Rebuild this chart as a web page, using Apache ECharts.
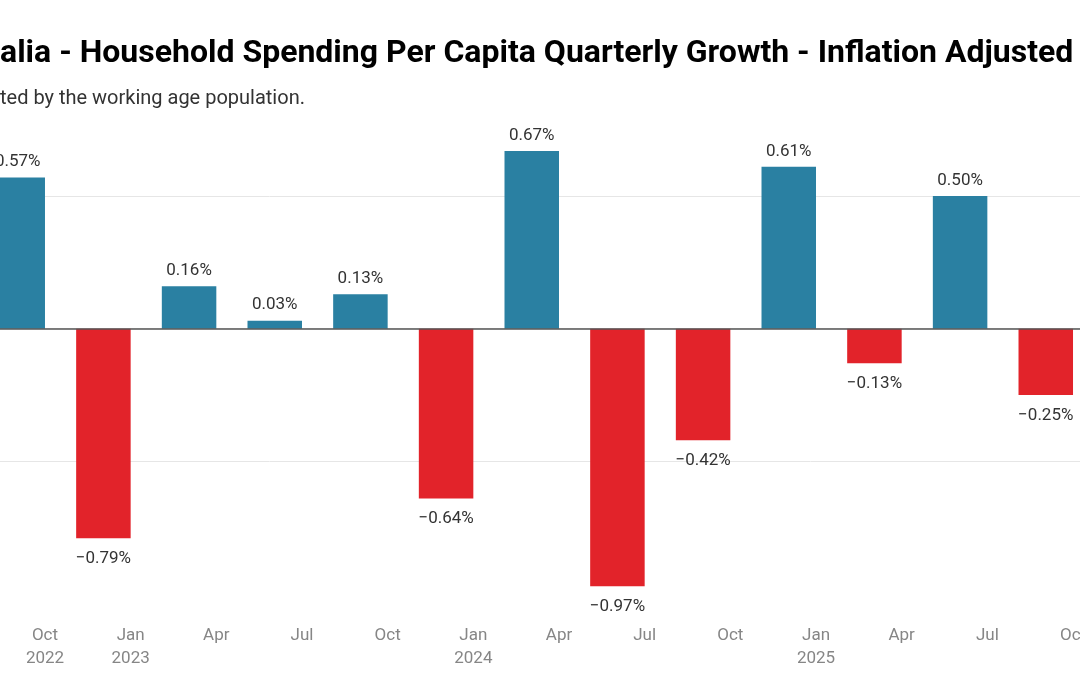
<!DOCTYPE html>
<html>
<head>
<meta charset="utf-8">
<script src="https://cdn.jsdelivr.net/npm/echarts@6/dist/echarts.min.js"></script>
<style>
html,body{margin:0;padding:0;background:#fff;}
#chart{width:1080px;height:675px;}
</style>
</head>
<body>
<div id="chart"></div>
<script>
// Quarter labels (month + year when a new year starts)
const quarters = ['Oct\n2022','Jan\n2023','Apr','Jul','Oct','Jan\n2024','Apr','Jul','Oct','Jan\n2025','Apr','Jul','Oct'];
// Quarterly growth, % (inflation adjusted, per capita)
const growth = [0.57, -0.79, 0.16, 0.03, 0.13, -0.64, 0.67, -0.97, -0.42, 0.61, -0.13, 0.50, -0.25];

const titleText = 'alia - Household Spending Per Capita Quarterly Growth - Inflation Adjusted';
const subtitleText = 'ted by the working age population.';

const BLUE = '#2a80a2';
const RED = '#e2232a';

function fmt(v) {
  return (v < 0 ? '\u2212' : '') + Math.abs(v).toFixed(2) + '%';
}

const chart = echarts.init(document.getElementById('chart'), null, {renderer: 'canvas'});
chart.setOption({
  animation: false,
  backgroundColor: '#ffffff',
  textStyle: {fontFamily: 'Roboto'},
  title: [
    {text: titleText, left: 0, top: 38, padding: 0,
     textStyle: {fontFamily: 'Roboto', fontWeight: 'bold', fontSize: 32, color: '#000'}},
    {text: subtitleText, left: 0, top: 89, padding: 0,
     textStyle: {fontFamily: 'Roboto', fontWeight: 'normal', fontSize: 20, color: '#333'}}
  ],
  grid: {left: -25.1, right: -8.6, top: 63.3, bottom: 80.9, containLabel: false, outerBoundsMode: 'none'},
  xAxis: {
    type: 'category',
    data: quarters,
    axisLine: {show: false, onZero: false},
    axisTick: {show: false},
    axisLabel: {
      interval: 0, margin: 30, color: '#868686', fontSize: 17, lineHeight: 23,
      fontFamily: 'Roboto', padding: [0, 0, 0, 54.5], align: 'center'
    },
    splitLine: {show: false}
  },
  yAxis: {
    type: 'value', min: -1, max: 1, interval: 0.5,
    axisLabel: {show: false},
    axisLine: {show: false},
    axisTick: {show: false},
    splitLine: {show: true, showMinLine: false, showMaxLine: false,
                lineStyle: {color: '#e6e6e6', width: 1}}
  },
  series: [{
    type: 'bar',
    data: growth.map(v => ({value: v, itemStyle: {color: v >= 0 ? BLUE : RED},
      label: {position: v >= 0 ? 'top' : 'bottom', distance: v >= 0 ? 7 : 12}})),
    barWidth: 54.5,
    label: {
      show: true, fontSize: 17, color: '#333', fontFamily: 'Roboto',
      formatter: p => fmt(p.value)
    },
    markLine: {
      silent: true, symbol: 'none', label: {show: false},
      lineStyle: {color: '#555', width: 1.5, type: 'solid'},
      data: [{yAxis: 0}]
    }
  }]
});
</script>
</body>
</html>
